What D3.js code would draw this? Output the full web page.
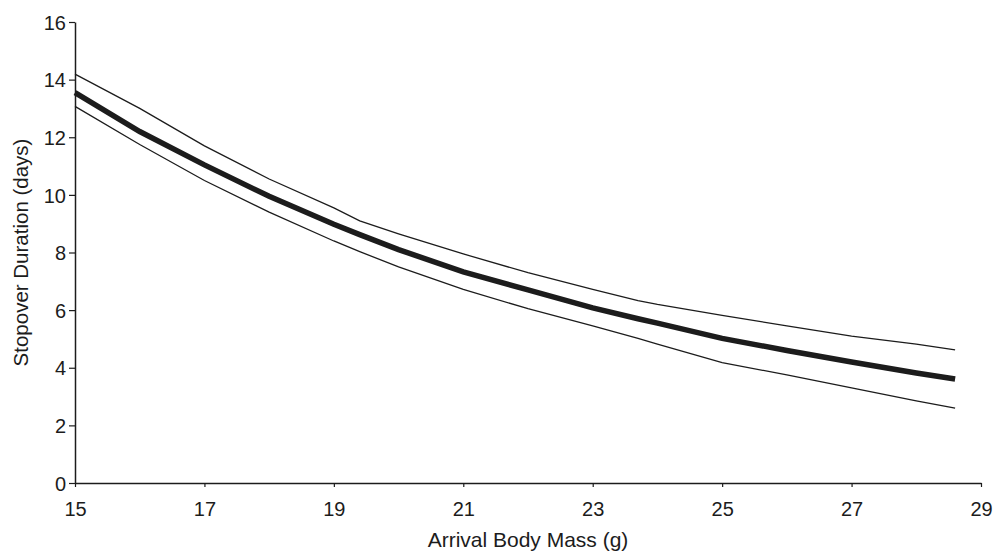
<!DOCTYPE html>
<html>
<head>
<meta charset="utf-8">
<script src="https://cdn.jsdelivr.net/npm/d3@7"></script>
<style>
  body { margin: 0; background: #fff; }
  svg { display: block; font-family: "Liberation Sans", Arial, sans-serif; }
</style>
</head>
<body>
<svg id="chart" width="996" height="553"></svg>
<script>
// arrival body mass (g)
var mass = [15, 16, 17, 18, 19, 19.4, 20, 21, 22, 23, 23.7, 24, 25, 26, 27, 28, 28.6];
// fitted stopover duration (days) and its bounds
var fitted = [13.55, 12.2, 11.04, 9.95, 8.98, 8.62, 8.1, 7.33, 6.7, 6.08, 5.7, 5.55, 5.02, 4.6, 4.2, 3.82, 3.61];
var upper  = [14.19, 13.0, 11.7, 10.55, 9.55, 9.1, 8.65, 7.95, 7.3, 6.72, 6.33, 6.2, 5.82, 5.45, 5.1, 4.82, 4.62];
var lower  = [13.07, 11.75, 10.5, 9.4, 8.4, 8.03, 7.5, 6.72, 6.05, 5.45, 5.02, 4.82, 4.18, 3.75, 3.3, 2.85, 2.6];

var xTicks = [15, 17, 19, 21, 23, 25, 27, 29];
var yTicks = [0, 2, 4, 6, 8, 10, 12, 14, 16];

var margin = { top: 22, left: 75 };
var plotWidth = 906;
var plotHeight = 461;
var ink = "#1c1c1c";

var svg = d3.select("#chart");
var g = svg.append("g").attr("transform", "translate(" + margin.left + "," + margin.top + ")");

var x = d3.scaleLinear().domain([15, 29]).range([0, plotWidth]);
var y = d3.scaleLinear().domain([0, 16]).range([plotHeight, 0]);

var xAxis = g.append("g")
    .attr("transform", "translate(0," + plotHeight + ")")
    .call(d3.axisBottom(x).tickValues(xTicks).tickFormat(d3.format("d"))
        .tickSizeInner(4).tickSizeOuter(0).tickPadding(15));

var yAxis = g.append("g")
    .call(d3.axisLeft(y).tickValues(yTicks).tickFormat(d3.format("d"))
        .tickSizeInner(6).tickSizeOuter(0).tickPadding(3));

[xAxis, yAxis].forEach(function (ax) {
    ax.select(".domain").attr("stroke", ink).attr("stroke-width", 1.5);
    ax.selectAll(".tick line").attr("stroke", ink).attr("stroke-width", 1.2);
    ax.selectAll(".tick text")
        .attr("fill", ink)
        .attr("font-size", 20)
        .attr("font-family", "Liberation Sans, Arial, sans-serif");
});
yAxis.selectAll(".tick text").attr("dy", "0.36em");

var line = d3.line()
    .x(function (d) { return x(d[0]); })
    .y(function (d) { return y(d[1]); });

function pairs(vals) {
    return mass.map(function (m, i) { return [m, vals[i]]; });
}

[upper, lower].forEach(function (vals) {
    g.append("path")
        .datum(pairs(vals))
        .attr("d", line)
        .attr("fill", "none")
        .attr("stroke", ink)
        .attr("stroke-width", 1.3);
});

g.append("path")
    .datum(pairs(fitted))
    .attr("d", line)
    .attr("fill", "none")
    .attr("stroke", ink)
    .attr("stroke-width", 5.5);

svg.append("text")
    .text("Arrival Body Mass (g)")
    .attr("x", margin.left + plotWidth / 2)
    .attr("y", 547)
    .attr("text-anchor", "middle")
    .attr("font-size", 21)
    .attr("fill", ink);

svg.append("text")
    .text("Stopover Duration (days)")
    .attr("transform", "translate(28," + (margin.top + plotHeight / 2) + ") rotate(-90)")
    .attr("text-anchor", "middle")
    .attr("font-size", 20.5)
    .attr("fill", ink);
</script>
</body>
</html>
